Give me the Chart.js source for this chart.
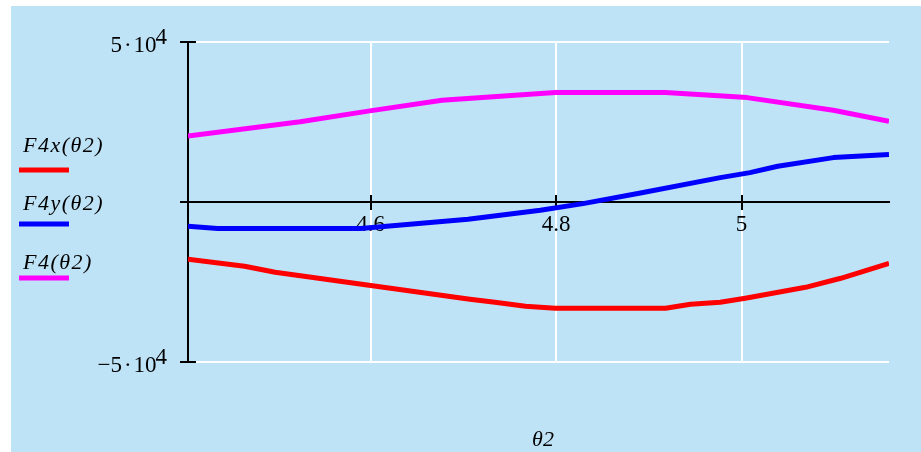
<!DOCTYPE html>
<html><head><meta charset="utf-8">
<script src="https://cdn.jsdelivr.net/npm/chart.js@4/dist/chart.umd.min.js"></script>
<style>html,body{margin:0;padding:0;background:#fff;}canvas{display:block;}</style>
</head><body>
<canvas id="c" width="921" height="452"></canvas>
<script>
// ---- data ----
const thetaF4x = [4.403, 4.464, 4.497, 4.707, 4.734, 4.767, 4.799, 4.918, 4.945, 4.977, 5.004, 5.069, 5.107, 5.159];
const F4x      = [-17900, -20090, -21970, -30410, -31340, -32590, -33220, -33220, -31970, -31340, -30090, -26660, -23840, -19160];

const thetaF4y = [4.403, 4.435, 4.589, 4.705, 4.783, 4.829, 4.891, 4.977, 5.009, 5.039, 5.099, 5.159];
const F4y      = [-7600, -8300, -8300, -5400, -2600, -500, 2810, 7620, 9190, 11160, 13870, 14810];

const thetaF4  = [4.403, 4.524, 4.599, 4.677, 4.799, 4.918, 5.006, 5.099, 5.159];
const F4       = [20625, 25060, 28470, 31780, 34190, 34190, 32625, 28656, 25220];

const xTicks = [4.6, 4.8, 5];
const yTicks = [-50000, 0, 50000];
const yTickMantissa = ['\u22125\u200A·\u200A10', '', '5\u200A·\u200A10'];
const yTickExponent = ['4', '', '4'];
const seriesNames = ['F4x(\u03B82)', 'F4y(\u03B82)', 'F4(\u03B82)'];
const seriesColors = ['#ff0000', '#0000ff', '#ff00ff'];
const xTitle = '\u03B82';
const xMin = 4.403, xMax = 5.159;

const pts = (xs, ys) => xs.map((x, i) => ({x: x, y: ys[i]}));

const SERIF = '"Liberation Serif", "Times New Roman", serif';

const bgPlugin = {
  id: 'bg',
  beforeDraw(chart) {
    const c = chart.ctx;
    c.save();
    c.fillStyle = '#ffffff';
    c.fillRect(0, 0, chart.width, chart.height);
    c.fillStyle = '#bee3f6';
    c.fillRect(11, 6, chart.width - 11, chart.height - 6);
    c.restore();
  }
};

const decoPlugin = {
  id: 'deco',
  beforeDatasetsDraw(chart) {
    const c = chart.ctx;
    const xs = chart.scales.x, ys = chart.scales.y;
    const y0 = ys.getPixelForValue(0);
    const ax = chart.chartArea.left;
    c.save();
    c.strokeStyle = '#000';
    c.lineWidth = 2;
    c.beginPath();
    xTicks.forEach(v => {
      const px = Math.round(xs.getPixelForValue(v));
      c.moveTo(px, y0 - 7); c.lineTo(px, y0 + 8);
    });
    yTicks.forEach(v => {
      const py = Math.round(ys.getPixelForValue(v));
      c.moveTo(ax - 8, py); c.lineTo(ax + 8, py);
    });
    c.stroke();
    // y tick labels with superscript exponent
    c.fillStyle = '#000';
    c.font = '23px ' + SERIF;
    c.textBaseline = 'alphabetic';
    yTicks.forEach((v, i) => {
      if (!yTickMantissa[i]) return;
      const py = ys.getPixelForValue(v);
      const right = 167;
      const ew = c.measureText(yTickExponent[i]).width;
      c.textAlign = 'left';
      c.fillText(yTickExponent[i], right - ew, py + 2);
      c.textAlign = 'right';
      c.fillText(yTickMantissa[i], right - ew + 1, py + 10);
    });
    c.restore();
  },
  afterDraw(chart) {
    const c = chart.ctx;
    c.save();
    c.fillStyle = '#000';
    c.font = 'italic 22px ' + SERIF;
    c.textAlign = 'left';
    c.textBaseline = 'alphabetic';
    try { c.letterSpacing = '1.5px'; } catch (e) {}
    const baselines = [152, 210, 269];
    const bars = [170, 224, 278];
    seriesNames.forEach((n, i) => {
      c.fillText(n, 23, baselines[i]);
      c.fillStyle = seriesColors[i];
      c.fillRect(19, bars[i] - 2.5, 50, 5);
      c.fillStyle = '#000';
    });
    try { c.letterSpacing = '0px'; } catch (e) {}
    c.textAlign = 'center';
    c.fillText(xTitle, 543, 446);
    c.restore();
  }
};

new Chart(document.getElementById('c').getContext('2d'), {
  type: 'line',
  data: {
    datasets: [
      {label: seriesNames[0], data: pts(thetaF4x, F4x), borderColor: seriesColors[0]},
      {label: seriesNames[1], data: pts(thetaF4y, F4y), borderColor: seriesColors[1]},
      {label: seriesNames[2], data: pts(thetaF4, F4), borderColor: seriesColors[2]}
    ]
  },
  options: {
    responsive: false,
    animation: false,
    events: [],
    datasets: {line: {borderWidth: 5, pointRadius: 0, tension: 0, fill: false, borderCapStyle: 'butt', borderJoinStyle: 'round'}},
    layout: {padding: {left: 0, right: 32, top: 42, bottom: 90}},
    plugins: {legend: {display: false}, tooltip: {enabled: false}, title: {display: false}},
    scales: {
      x: {
        type: 'linear', min: xMin, max: xMax, position: {y: 0},
        afterBuildTicks: s => { s.ticks = xTicks.map(v => ({value: v})); },
        grid: {color: '#ffffff', lineWidth: 2, drawTicks: false},
        border: {color: '#000000', width: 2},
        ticks: {color: '#000', font: {family: SERIF, size: 23}, padding: 9, maxRotation: 0, autoSkip: false,
                callback: v => String(v)}
      },
      y: {
        type: 'linear', min: -50000, max: 50000,
        afterFit: s => { s.width = 188; },
        afterBuildTicks: s => { s.ticks = yTicks.map(v => ({value: v})); },
        grid: {color: '#ffffff', lineWidth: 2, drawTicks: false},
        border: {color: '#000000', width: 2},
        ticks: {display: false}
      }
    }
  },
  plugins: [bgPlugin, decoPlugin]
});
</script>
</body></html>
